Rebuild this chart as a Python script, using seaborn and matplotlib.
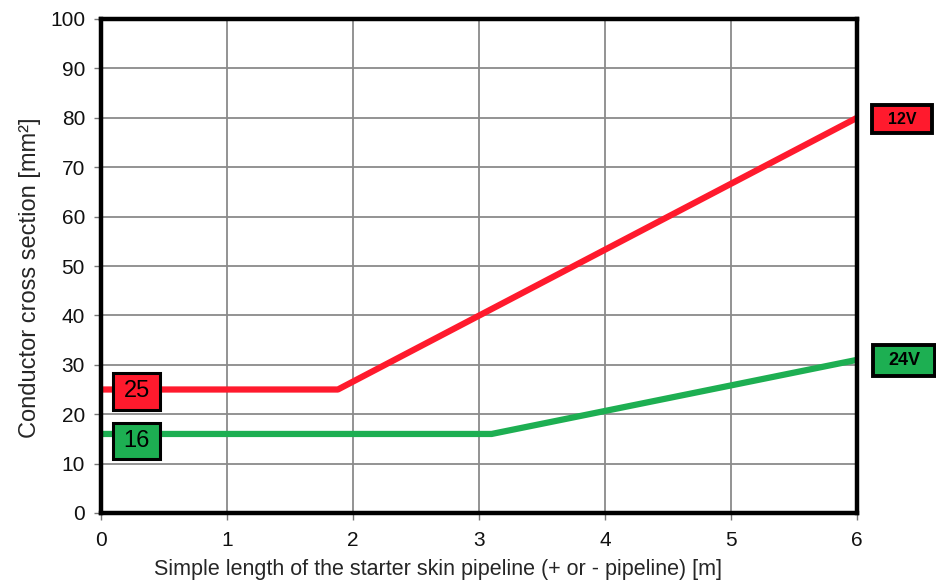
import matplotlib
matplotlib.use("Agg")
import matplotlib.pyplot as plt
from matplotlib.patches import Rectangle
import seaborn as sns
import pandas as pd

# data
red_x = [0, 1.88, 6]
red_y = [25, 25, 80]
green_x = [0, 3.1, 6]
green_y = [16, 16, 31]
series_labels = ["12V", "24V"]
start_labels = ["25", "16"]
x_ticks = [0, 1, 2, 3, 4, 5, 6]
y_ticks = list(range(0, 101, 10))

sns.set_theme(style="white")
plt.rcParams['font.family'] = ['Liberation Sans', 'DejaVu Sans']

RED = "#FF1A2D"
GREEN = "#1DAF52"

df = pd.concat([
    pd.DataFrame({"x": red_x, "y": red_y, "s": series_labels[0]}),
    pd.DataFrame({"x": green_x, "y": green_y, "s": series_labels[1]}),
])

fig = plt.figure(figsize=(9.37, 5.84), dpi=100)
ax = fig.add_axes([101/937, 1-513/584, (857-101)/937, (513-19)/584])

sns.lineplot(data=df, x="x", y="y", hue="s", palette=[RED, GREEN],
             linewidth=4.5, ax=ax, legend=False, sort=False, zorder=3)

ax.set_xlim(0, 6)
ax.set_ylim(0, 100)
ax.set_xticks(x_ticks)
ax.set_yticks(y_ticks)
ax.grid(True, color="#8a8a8a", linewidth=1.3, zorder=0)
for sp in ax.spines.values():
    sp.set_color("black")
    sp.set_linewidth(3.2)
    sp.set_zorder(4)
ax.tick_params(axis="both", direction="out", length=5, width=1, color="#777777",
               labelsize=15, left=True, bottom=True, labelcolor="#111111")
ax.tick_params(axis="x", pad=8)
ax.tick_params(axis="y", pad=6.5)
ax.set_xlabel("Simple length of the starter skin pipeline (+ or - pipeline) [m]", fontsize=15.5)
ax.set_ylabel("Conductor cross section [mm²]", fontsize=17)
ax.xaxis.set_label_coords(0.446, -0.093)
ax.yaxis.set_label_coords(-0.080, 0.476)

px_x = 6 / 756.0   # data units per pixel in x
px_y = 100 / 494.0  # data units per pixel in y


def box(cx, cy, wpx, hpx, col, txt, fs, weight, lw):
    w, h = wpx * px_x, hpx * px_y
    ax.add_patch(Rectangle((cx - w / 2, cy - h / 2), w, h, fc=col, ec="black",
                           lw=lw, zorder=6, clip_on=False))
    ax.text(cx, cy, txt, ha="center", va="center", fontsize=fs, fontweight=weight,
            color="black", zorder=7, clip_on=False)


# start value boxes
box(0.282, red_y[0] - 0.4, 47, 37, RED, start_labels[0], 17, "normal", 2.2)
box(0.282, green_y[0] - 1.4, 47, 36, GREEN, start_labels[1], 17, "normal", 2.2)

# series labels right of the plot
box(6.357, red_y[-1] - 0.3, 60, 28, RED, series_labels[0], 11.5, "bold", 2.8)
box(6.373, green_y[-1] - 0.2, 62, 31, GREEN, series_labels[1], 13, "bold", 2.8)

fig.savefig("out.png", dpi=100)
